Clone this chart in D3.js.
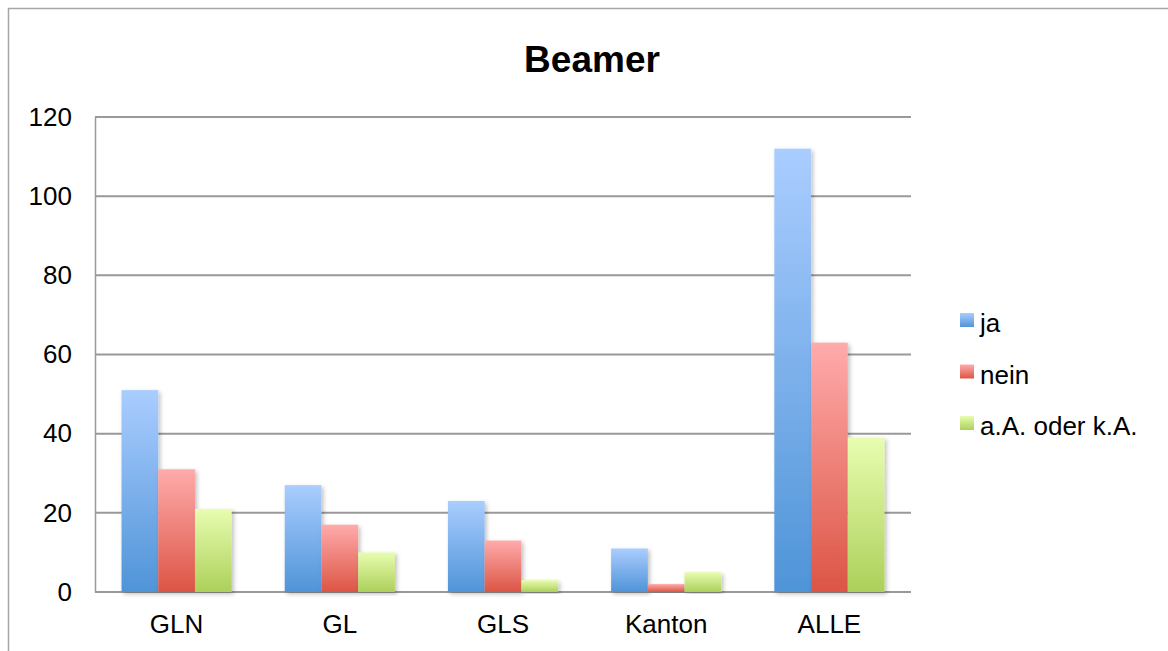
<!DOCTYPE html>
<html lang="de">
<head>
    <meta charset="UTF-8">
    <script src="https://d3js.org/d3.v7.min.js"></script>
    <style>
        body { margin: 0; background: #fff; }
        text { font-family: "Liberation Sans", Arial, sans-serif; fill: #000; }
    </style>
</head>
<body>
    <svg id="chart" width="1168" height="651"></svg>
    <script>
        // Daten
        const categories = ["GLN", "GL", "GLS", "Kanton", "ALLE"];
        const seriesNames = ["ja", "nein", "a.A. oder k.A."];
        const ja = [51, 27, 23, 11, 112];
        const nein = [31, 17, 13, 2, 63];
        const keineAngabe = [21, 10, 3, 5, 39];
        const yTicks = [0, 20, 40, 60, 80, 100, 120];

        const seriesValues = [ja, nein, keineAngabe];
        const data = categories.map((c, i) => ({
            cat: c,
            values: seriesNames.map((s, j) => ({ key: s, value: seriesValues[j][i] }))
        }));

        const width = 1168, height = 651;
        const margin = { top: 117, right: 257, bottom: 59, left: 95 };

        const svg = d3.select("#chart");
        const defs = svg.append("defs");

        // Farbverläufe
        const colors = [
            ["#aacdff", "#4f94d8"],
            ["#ffabab", "#dc5545"],
            ["#e8fdb0", "#acd05a"]
        ];
        colors.forEach((c, i) => {
            const g = defs.append("linearGradient")
                .attr("id", "grad" + i)
                .attr("x1", 0).attr("y1", 0).attr("x2", 0).attr("y2", 1);
            g.append("stop").attr("offset", "0%").attr("stop-color", c[0]);
            g.append("stop").attr("offset", "100%").attr("stop-color", c[1]);
        });

        const shadow = defs.append("filter").attr("id", "shadow")
            .attr("x", "-20%").attr("y", "-5%").attr("width", "150%").attr("height", "115%");
        shadow.append("feDropShadow")
            .attr("dx", 2).attr("dy", 2).attr("stdDeviation", 2)
            .attr("flood-color", "#000").attr("flood-opacity", 0.25);

        // Rahmen
        svg.append("rect")
            .attr("x", 8.5).attr("y", 8.5)
            .attr("width", 1200).attr("height", 700)
            .attr("fill", "none")
            .attr("stroke", "#a6a6a6")
            .attr("stroke-width", 1.5);

        // Titel
        svg.append("text")
            .attr("x", 592)
            .attr("y", 72)
            .attr("text-anchor", "middle")
            .style("font-size", "37px")
            .style("font-weight", "bold")
            .text("Beamer");

        const y = d3.scaleLinear()
            .domain([0, 120])
            .range([height - margin.bottom, margin.top]);

        const x = d3.scaleBand()
            .domain(categories)
            .range([margin.left, width - margin.right])
            .paddingInner(0.325)
            .paddingOuter(0.1625);

        const xInner = d3.scaleBand()
            .domain(seriesNames)
            .range([0, x.bandwidth()]);

        // Gitterlinien
        svg.append("g")
            .selectAll("line")
            .data(yTicks)
            .enter().append("line")
            .attr("x1", margin.left)
            .attr("x2", width - margin.right)
            .attr("y1", d => y(d))
            .attr("y2", d => y(d))
            .attr("stroke", "#999")
            .attr("stroke-width", 2);

        // Y-Achse
        const yAxis = svg.append("g")
            .attr("transform", `translate(${margin.left},0)`)
            .call(d3.axisLeft(y).tickValues(yTicks).tickSize(0).tickPadding(23));
        yAxis.select(".domain").attr("stroke", "#999").attr("stroke-width", 1.5);
        yAxis.selectAll("text").style("font-size", "26px").attr("fill", "#000");

        // Balken
        const groups = svg.selectAll(".grp")
            .data(data)
            .enter().append("g")
            .attr("class", "grp")
            .attr("transform", d => `translate(${x(d.cat)},0)`);

        groups.selectAll("rect")
            .data(d => d.values)
            .enter().append("rect")
            .attr("x", d => xInner(d.key))
            .attr("y", d => y(d.value))
            .attr("width", xInner.bandwidth())
            .attr("height", d => y(0) - y(d.value))
            .attr("fill", (d, i) => `url(#grad${i})`)
            .attr("filter", "url(#shadow)");

        // X-Achse
        const xAxis = svg.append("g")
            .attr("transform", `translate(0,${height - margin.bottom})`)
            .call(d3.axisBottom(x).tickSize(0).tickPadding(23));
        xAxis.select(".domain").remove();
        xAxis.selectAll("text").style("font-size", "26px").attr("fill", "#000");

        // Legende
        const legend = svg.append("g")
            .attr("transform", "translate(960,313)");
        const items = legend.selectAll("g")
            .data(seriesNames)
            .enter().append("g")
            .attr("transform", (d, i) => `translate(0,${i * 51.5})`);
        items.append("rect")
            .attr("width", 14).attr("height", 14)
            .attr("fill", (d, i) => `url(#grad${i})`);
        items.append("text")
            .attr("x", 20)
            .attr("y", 19)
            .style("font-size", "26px")
            .text(d => d);
    </script>
</body>
</html>
